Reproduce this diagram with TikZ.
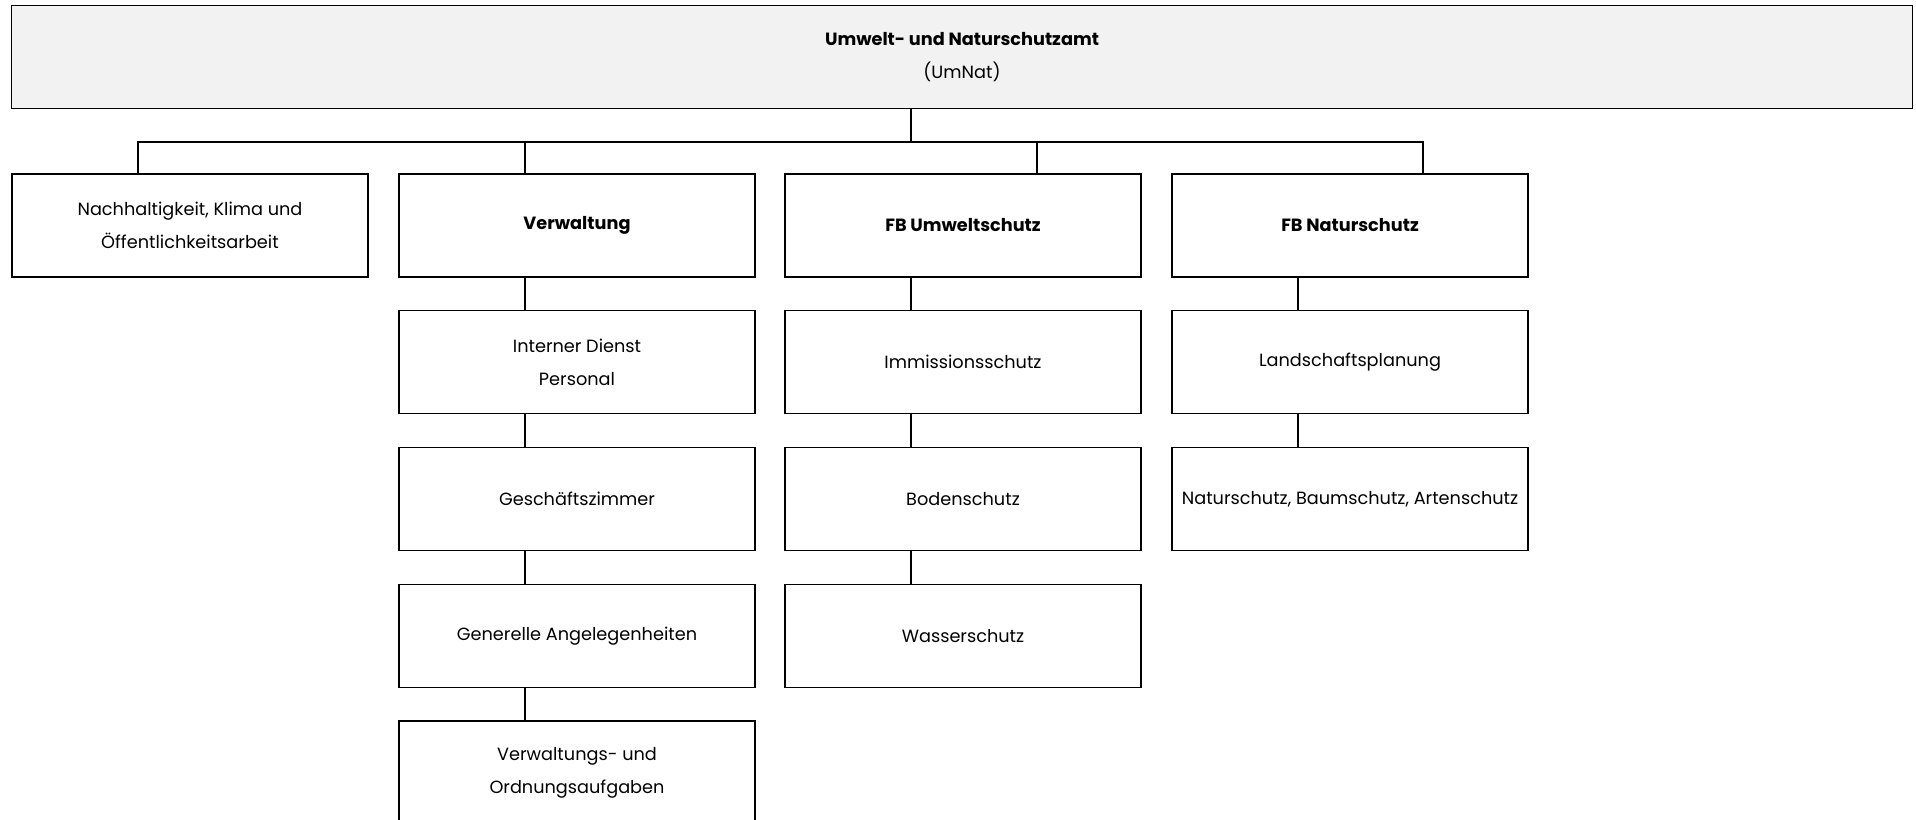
\documentclass[tikz,border=0pt]{standalone}
\usepackage{fontspec}
\setmainfont{Poppins}

\begin{document}
\begin{tikzpicture}[x=1pt, y=-1pt,
  box/.style={rectangle, draw=black, line width=1.8pt, minimum width=356pt, minimum height=103pt, inner sep=0pt, align=center, font=\fontsize{17.7}{33}\selectfont},
  link/.style={draw=black, line width=1.8pt}]

\clip (0,0) rectangle (1916,819);
\fill[white] (0,0) rectangle (1916,819);

\node(umnat) [box, minimum width=1901pt, fill=black!5] at (962,57) {\textbf{Umwelt- und Naturschutzamt}\\(UmNat)};

\node(nachh) [box] at (190,225.5) {Nachhaltigkeit, Klima und\\Öffentlichkeitsarbeit};
\node(verw) [box] at (577,225.5) {\textbf{Verwaltung}};
\node(umw) [box] at (963,225.5) {\textbf{FB Umweltschutz}};
\node(natur) [box] at (1350,225.5) {\textbf{FB Naturschutz}};

\node(intern) [box] at (577,362) {Interner Dienst\\Personal};
\node(gesch) [box] at (577,499) {Geschäftszimmer};
\node(gener) [box] at (577,636) {Generelle Angelegenheiten};
\node(ordn) [box] at (577,772.5) {Verwaltungs- und\\Ordnungsaufgaben};

\node(immi) [box] at (963,362) {Immissionsschutz};
\node(boden) [box] at (963,499) {Bodenschutz};
\node(wasser) [box] at (963,636) {Wasserschutz};

\node(land) [box] at (1350,362) {Landschaftsplanung};
\node(baum) [box] at (1350,499) {Naturschutz, Baumschutz, Artenschutz};

% Verbindungen
\coordinate(bus) at (911,142);
\draw[link] (umnat.south -| bus) -- (bus);
\draw[link] ([xshift=-52pt]nachh.north) |- ([xshift=73pt]natur.north |- bus) -- ([xshift=73pt]natur.north);
\draw[link] ([xshift=-52pt]verw.north) -- ([xshift=-52pt]verw.north |- bus);
\draw[link] ([xshift=74pt]umw.north) -- ([xshift=74pt]umw.north |- bus);

\draw[link] ([xshift=-52pt]verw.south) -- ([xshift=-52pt]intern.north);
\draw[link] ([xshift=-52pt]intern.south) -- ([xshift=-52pt]gesch.north);
\draw[link] ([xshift=-52pt]gesch.south) -- ([xshift=-52pt]gener.north);
\draw[link] ([xshift=-52pt]gener.south) -- ([xshift=-52pt]ordn.north);

\draw[link] ([xshift=-52pt]umw.south) -- ([xshift=-52pt]immi.north);
\draw[link] ([xshift=-52pt]immi.south) -- ([xshift=-52pt]boden.north);
\draw[link] ([xshift=-52pt]boden.south) -- ([xshift=-52pt]wasser.north);

\draw[link] ([xshift=-52pt]natur.south) -- ([xshift=-52pt]land.north);
\draw[link] ([xshift=-52pt]land.south) -- ([xshift=-52pt]baum.north);

\end{tikzpicture}
\end{document}
